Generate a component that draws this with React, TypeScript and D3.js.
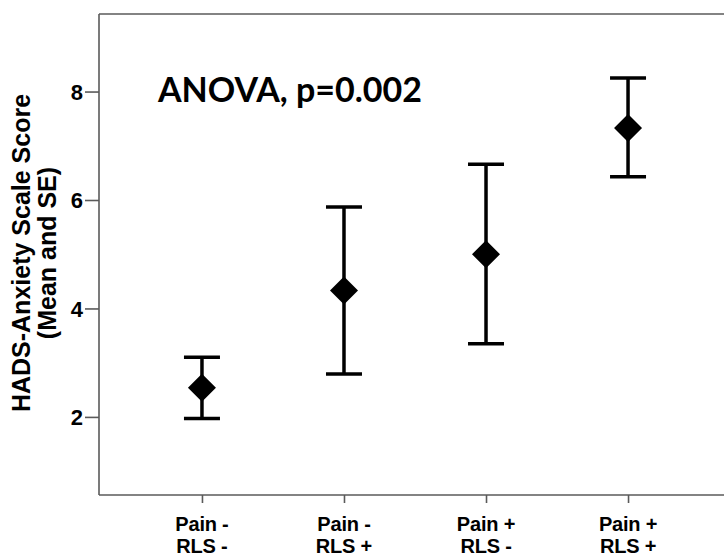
import React, { useRef, useEffect } from "react";
import * as d3 from "d3";

const groups = ["Pain -|RLS -", "Pain -|RLS +", "Pain +|RLS -", "Pain +|RLS +"];
const means = [2.54, 4.33, 5.0, 7.33];
const upper = [3.1, 5.87, 6.66, 8.25];
const lower = [1.97, 2.79, 3.35, 6.43];
const yTicks = [2, 4, 6, 8];

const App = () => {
  const ref = useRef<SVGSVGElement>(null);

  useEffect(() => {
    const svg = d3.select(ref.current);
    svg.selectAll("*").remove();

    const width = 724;
    const height = 558;
    const margin = { top: 14, right: -7, bottom: 63, left: 99 };

    const x = d3
      .scalePoint()
      .domain(groups)
      .range([margin.left, width - margin.right])
      .padding(0.725);

    const y = d3
      .scaleLinear()
      .domain([0.56, 9.43])
      .range([height - margin.bottom, margin.top]);

    const axisColor = "#5a5a5a";
    const font = "'Liberation Sans', Arial, sans-serif";

    // frame (right side falls outside the picture)
    const frame = svg.append("g").attr("stroke", axisColor).attr("stroke-width", 1.6);
    frame.append("line").attr("x1", margin.left).attr("x2", width).attr("y1", margin.top).attr("y2", margin.top);
    frame
      .append("line")
      .attr("x1", margin.left)
      .attr("x2", width)
      .attr("y1", height - margin.bottom)
      .attr("y2", height - margin.bottom);
    frame
      .append("line")
      .attr("x1", margin.left)
      .attr("x2", margin.left)
      .attr("y1", margin.top)
      .attr("y2", height - margin.bottom);

    // y axis
    const yAxis = svg
      .append("g")
      .attr("transform", `translate(${margin.left},0)`)
      .call(d3.axisLeft(y).tickValues(yTicks).tickSize(14).tickPadding(2).tickFormat(d3.format("d")));
    yAxis.select(".domain").remove();
    yAxis.selectAll("line").attr("stroke", axisColor).attr("stroke-width", 1.6);
    yAxis
      .selectAll("text")
      .attr("font-family", font)
      .attr("font-weight", "bold")
      .attr("font-size", 22)
      .attr("dy", "0.36em")
      .attr("fill", "#000");

    // x axis
    const xAxis = svg
      .append("g")
      .attr("transform", `translate(0,${height - margin.bottom})`)
      .call(d3.axisBottom(x).tickSize(8).tickFormat(() => ""));
    xAxis.select(".domain").remove();
    xAxis.selectAll("line").attr("stroke", axisColor).attr("stroke-width", 1.6);
    xAxis.selectAll("text").remove();

    groups.forEach((g) => {
      const parts = g.split("|");
      const t = svg
        .append("text")
        .attr("text-anchor", "middle")
        .attr("font-family", font)
        .attr("font-weight", "bold")
        .attr("font-size", 20)
        .attr("letter-spacing", -0.2)
        .attr("fill", "#000");
      t.append("tspan").attr("x", x(g)).attr("y", 531).text(parts[0]);
      t.append("tspan").attr("x", x(g)).attr("y", 553).text(parts[1]);
    });

    // y title
    const title = svg
      .append("text")
      .attr("transform", `translate(0,253) rotate(-90)`)
      .attr("text-anchor", "middle")
      .attr("font-family", font)
      .attr("font-weight", "bold")
      .attr("font-size", 25)
      .attr("fill", "#000");
    title.append("tspan").attr("x", 0).attr("y", 30).text("HADS-Anxiety Scale Score");
    title.append("tspan").attr("x", 0).attr("y", 56).text("(Mean and SE)");

    // error bars
    const capW = 18;
    const bars = svg.append("g").attr("stroke", "#000").attr("stroke-width", 3.5);
    groups.forEach((g, i) => {
      const cx = x(g) as number;
      bars.append("line").attr("x1", cx).attr("x2", cx).attr("y1", y(upper[i])).attr("y2", y(lower[i]));
      bars.append("line").attr("x1", cx - capW).attr("x2", cx + capW).attr("y1", y(upper[i])).attr("y2", y(upper[i]));
      bars.append("line").attr("x1", cx - capW).attr("x2", cx + capW).attr("y1", y(lower[i])).attr("y2", y(lower[i]));
    });

    // diamonds
    const d = 14;
    svg
      .append("g")
      .selectAll("path")
      .data(means)
      .join("path")
      .attr("d", (m, i) => {
        const cx = x(groups[i]) as number;
        const cy = y(m);
        return `M${cx},${cy - d}L${cx + d},${cy}L${cx},${cy + d}L${cx - d},${cy}Z`;
      })
      .attr("fill", "#000");

    svg
      .append("text")
      .attr("x", 158)
      .attr("y", 102)
      .attr("font-family", "Lato, 'Open Sans', sans-serif")
      .attr("font-weight", "bold")
      .attr("font-size", 34)
      .attr("fill", "#000")
      .text("ANOVA, p=0.002");
  }, []);

  return (
    <svg
      ref={ref}
      width={724}
      height={558}
      style={{ position: "absolute", left: 0, top: 0, background: "#fff" }}
    ></svg>
  );
};

export default App;
